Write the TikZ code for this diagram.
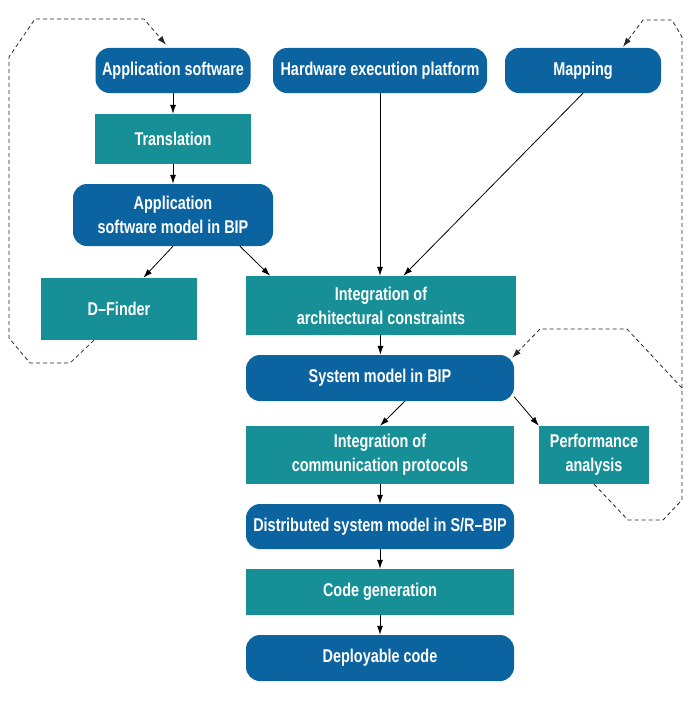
\documentclass[tikz,border=0pt]{standalone}
\usepackage{fontspec}
\setmainfont{Liberation Sans}[FakeStretch=0.78]
\usepackage{tikz}
\usetikzlibrary{shapes,arrows,positioning,calc,arrows.meta}
\definecolor{bipblue}{HTML}{0B63A0}
\definecolor{bipteal}{HTML}{178F96}

\begin{document}
\begin{tikzpicture}[x=1pt, y=-1pt,
    font=\bfseries\fontsize{18.5}{24}\selectfont,
    model/.style={fill=bipblue, text=white, rounded corners=14pt, align=center, inner sep=0pt},
    tool/.style={fill=bipteal, text=white, align=center, inner sep=0pt},
    flow/.style={-{Latex[length=9pt,width=6pt]}, line width=0.8pt},
    loop/.style={-{Latex[length=9pt,width=6pt]}, dashed, dash pattern=on 4pt off 3pt, line width=0.8pt, black!85}]
    \useasboundingbox (0,0) rectangle (699,709);

    % Inputs
    \node[model, minimum width=155pt, minimum height=45pt] (appsw) at (173,70.5) {Application software};
    \node[model, minimum width=214pt, minimum height=45pt] (hw) at (380,70.5) {Hardware execution platform};
    \node[model, minimum width=156pt, minimum height=45pt] (map) at (583,70.5) {Mapping};

    % Application side
    \node[tool, minimum width=156pt, minimum height=50pt] (trans) at (173,139) {Translation};
    \node[model, minimum width=200pt, minimum height=62pt] (appmodel) at (173,215) {Application\\software model in BIP};
    \node[tool, minimum width=156pt, minimum height=62pt] (dfinder) at (119,309) {D--Finder};

    % System flow
    \node[tool, minimum width=270pt, minimum height=59pt] (integarch) at (381,305.5) {Integration of\\architectural constraints};
    \node[model, minimum width=268pt, minimum height=46pt] (sysmodel) at (380,378) {System model in BIP};
    \node[tool, minimum width=268pt, minimum height=58pt] (integcomm) at (380,455) {Integration of\\communication protocols};
    \node[tool, minimum width=110pt, minimum height=58pt] (perf) at (594,455) {Performance\\analysis};
    \node[model, minimum width=268pt, minimum height=45pt] (dist) at (380,526.5) {Distributed system model in S/R--BIP};
    \node[tool, minimum width=268pt, minimum height=46pt] (codegen) at (380,592) {Code generation};
    \node[model, minimum width=268pt, minimum height=46pt] (deploy) at (380,658) {Deployable code};

    % Arrows
    \draw[flow] (appsw) -- (trans);
    \draw[flow] (trans) -- (appmodel);
    \draw[flow] (appmodel.south) -- (dfinder.52);
    \draw[flow] (appmodel.-25) -- (integarch.165);
    \draw[flow] (hw.south) -- (hw.south |- integarch.north);
    \draw[flow] (map.south) -- (integarch.53);
    \draw[flow] (integarch) -- (sysmodel);
    \draw[flow] (sysmodel.-43) -- (integcomm.north);
    \draw[flow] (sysmodel.-8) -- (perf.north west);
    \draw[flow] (integcomm) -- (dist);
    \draw[flow] (dist) -- (codegen);
    \draw[flow] (codegen) -- (deploy);

    % Feedback loops
    \draw[loop] ($(dfinder.south)+(-25,0)$) -- (70,363) -- (30,363) -- (9,338) -- (9,57)
        -- (35,19) -- (144,19) -- ($(appsw.north)+(-7,-3)$);
    \coordinate (fork) at (682,388);
    \draw[loop] (perf.south) -- (628,520) -- (663,520) -- (682,500) -- (682,37)
        -- (672,20) -- (643,20) -- ($(map.north)+(40,-1)$);
    \draw[loop] (fork) -- (627,329) -- (540,329) -- ($(sysmodel.north east)+(-2,3)$);
\end{tikzpicture}
\end{document}
